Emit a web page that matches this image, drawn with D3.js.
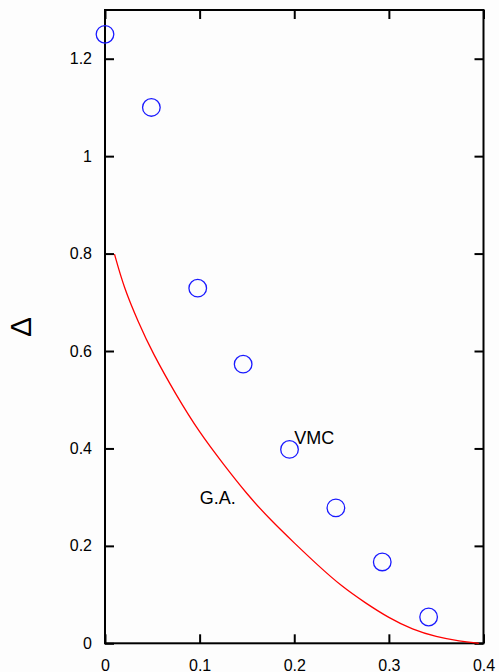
<!DOCTYPE html>
<html><head><meta charset="utf-8">
<script src="https://cdn.jsdelivr.net/npm/d3@7"></script>
<style>html,body{margin:0;padding:0;background:#fdfdfd;}svg{display:block;}</style>
</head><body>
<svg id="chart" width="499" height="672"></svg>
<script>
const vmcX = [0, 0.049, 0.098, 0.146, 0.195, 0.244, 0.293, 0.342];
const vmcY = [1.25, 1.10, 0.729, 0.573, 0.398, 0.278, 0.167, 0.054];
const gaX = [0.010, 0.020, 0.035, 0.050, 0.075, 0.100, 0.125, 0.150, 0.175, 0.200, 0.225, 0.250, 0.275, 0.300, 0.325, 0.350, 0.375, 0.395];
const gaY = [0.799, 0.730, 0.660, 0.597, 0.510, 0.432, 0.368, 0.306, 0.253, 0.206, 0.160, 0.117, 0.083, 0.052, 0.028, 0.013, 0.004, 0.0];
const xTicks = [0, 0.1, 0.2, 0.3, 0.4];
const xTickLabels = ["0", "0.1", "0.2", "0.3", "0.4"];
const yTicks = [0, 0.2, 0.4, 0.6, 0.8, 1.0, 1.2];
const yTickLabels = ["0", "0.2", "0.4", "0.6", "0.8", "1", "1.2"];
const annotations = [{text: "VMC", x: 0.2, y: 0.41}, {text: "G.A.", x: 0.1, y: 0.285}];

const svg = d3.select("#chart");
const L = 105, R = 483.5, T = 10, B = 643.3;
const x = d3.scaleLinear().domain([0, 0.4]).range([L, R]);
const y = d3.scaleLinear().domain([0, 1.3]).range([B, T]);
const font = "Liberation Sans, Arial, Helvetica, sans-serif";

svg.append("rect").attr("width", 499).attr("height", 672).attr("fill", "#fdfdfd");

// axes (ticks inward on all sides)
const tl = 9;
svg.append("g").attr("transform", `translate(0,${B})`)
  .call(d3.axisBottom(x).tickValues(xTicks).tickSize(-tl).tickFormat((d,i)=>xTickLabels[i]).tickPadding(16))
  .call(g=>g.select(".domain").remove())
  .call(g=>g.selectAll("line").attr("stroke","#000").attr("stroke-width",2))
  .call(g=>g.selectAll("text").attr("font-family",font).attr("font-size",16).attr("fill","#000"));
svg.append("g").attr("transform", `translate(0,${T})`)
  .call(d3.axisTop(x).tickValues(xTicks).tickSize(-tl).tickFormat(""))
  .call(g=>g.select(".domain").remove())
  .call(g=>g.selectAll("line").attr("stroke","#000").attr("stroke-width",2));
svg.append("g").attr("transform", `translate(${L},0)`)
  .call(d3.axisLeft(y).tickValues(yTicks).tickSize(-tl).tickFormat((d,i)=>yTickLabels[i]).tickPadding(13))
  .call(g=>g.select(".domain").remove())
  .call(g=>g.selectAll("line").attr("stroke","#000").attr("stroke-width",2))
  .call(g=>g.selectAll("text").attr("font-family",font).attr("font-size",16).attr("fill","#000"));
svg.append("g").attr("transform", `translate(${R},0)`)
  .call(d3.axisRight(y).tickValues(yTicks).tickSize(-tl).tickFormat(""))
  .call(g=>g.select(".domain").remove())
  .call(g=>g.selectAll("line").attr("stroke","#000").attr("stroke-width",2));

svg.append("rect").attr("x", L).attr("y", T).attr("width", R - L).attr("height", B - T)
  .attr("fill", "none").attr("stroke", "#000").attr("stroke-width", 2);

// G.A. curve
const line = d3.line().x(d=>x(d[0])).y(d=>y(d[1])).curve(d3.curveBasis);
svg.append("path").datum(gaX.map((v,i)=>[v, gaY[i]]))
  .attr("d", line).attr("fill","none").attr("stroke","#ff0000").attr("stroke-width",1.3);

// VMC points
svg.append("g").selectAll("circle").data(vmcX.map((v,i)=>[v, vmcY[i]])).join("circle")
  .attr("cx", d=>x(d[0])).attr("cy", d=>y(d[1])).attr("r", 8.8)
  .attr("fill","none").attr("stroke","#1a1aff").attr("stroke-width",1.3);

// annotations
svg.append("g").selectAll("text").data(annotations).join("text")
  .attr("x", d=>x(d.x)).attr("y", d=>y(d.y))
  .attr("font-family", font).attr("font-size", 18).attr("fill", "#000")
  .text(d=>d.text);

// y label
svg.append("text").attr("transform", "translate(31,327) rotate(-90)")
  .attr("text-anchor","middle").attr("font-family", font).attr("font-size", 30).attr("fill","#000")
  .text("Δ");
</script>
</body></html>
